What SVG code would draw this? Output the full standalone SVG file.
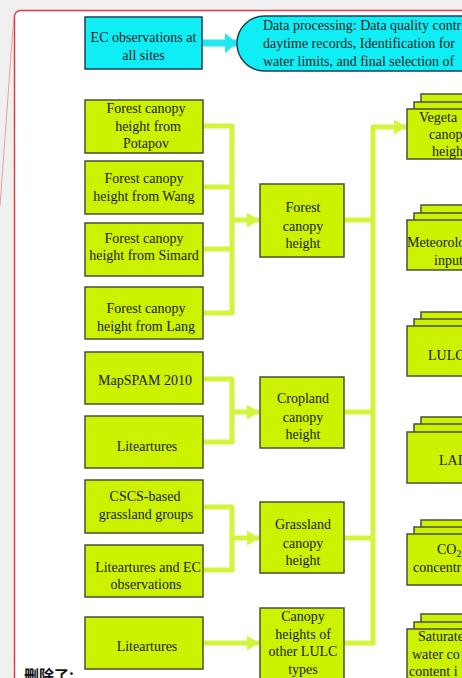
<svg xmlns="http://www.w3.org/2000/svg" width="462" height="678" viewBox="0 0 462 678">
<style>
.t{font-family:"Liberation Serif","Times New Roman",serif;font-size:14px;fill:#1a1a1a;text-anchor:middle}
.s{text-anchor:start}
.g{fill:#ccf200;stroke:#4d4d3a;stroke-width:1.5}
.c{fill:#10eef5;stroke:#1c4050;stroke-width:1.5}
.w{fill:none;stroke:#d2f53c;stroke-width:5;stroke-linejoin:round}
</style>
<defs>
<marker id="ah" markerUnits="userSpaceOnUse" markerWidth="12" markerHeight="16" refX="12" refY="8" orient="auto">
<path d="M0,0.5 L12,8 L0,15.5 z" fill="#d2f53c"/>
</marker>
<marker id="ac" markerUnits="userSpaceOnUse" markerWidth="12" markerHeight="22" refX="12" refY="11" orient="auto">
<path d="M0,1 L12,11 L0,21 z" fill="#22e6f0"/>
</marker>
</defs>
<rect x="0" y="0" width="462" height="678" fill="#f0f0f0"/>
<rect x="14.5" y="10.5" width="470" height="700" rx="6" fill="#ffffff" stroke="#d9404a" stroke-width="1.5"/>
<line x1="14" y1="14" x2="0" y2="206" stroke="#e8a0a6" stroke-width="1"/>

<g id="connectors">
<line x1="202" y1="43" x2="237" y2="43" stroke="#22e6f0" stroke-width="7" marker-end="url(#ac)"/>
<path class="w" d="M203 126 H232 V313 H203 M203 187 H232 M203 249 H232"/>
<line class="w" x1="232" y1="220" x2="259" y2="220" marker-end="url(#ah)"/>
<path class="w" d="M203 379 H232 V442 H203"/>
<line class="w" x1="232" y1="412" x2="259" y2="412" marker-end="url(#ah)"/>
<path class="w" d="M203 507 H232 V570 H203"/>
<line class="w" x1="232" y1="538" x2="259" y2="538" marker-end="url(#ah)"/>
<line class="w" x1="203" y1="643" x2="259" y2="643" marker-end="url(#ah)"/>
<path class="w" d="M344 643 H373 V127 H406" marker-end="url(#ah)"/>
<path class="w" d="M344 220 H373 M344 412 H373 M344 538 H373"/>
</g>

<g id="ec">
<rect class="c" x="85" y="17" width="117" height="52"/>
<text class="t" x="143.5" y="42">EC observations at</text>
<text class="t" x="143.5" y="60">all sites</text>
</g>
<g id="processing">
<path class="c" d="M264.5 16 H480 V71 H264.5 A27.5 27.5 0 0 1 264.5 16 Z"/>
<text class="t s" x="263" y="30">Data processing: Data quality contr</text>
<text class="t s" x="263" y="48">daytime records, Identification for</text>
<text class="t s" x="263" y="66">water limits, and final selection of</text>
</g>

<g id="potapov">
<rect class="g" x="85" y="100" width="118" height="53"/>
<text class="t" x="146" y="113">Forest canopy</text>
<text class="t" x="148" y="131">height from</text>
<text class="t" x="146" y="148">Potapov</text>
</g>
<g id="wang">
<rect class="g" x="85" y="161" width="118" height="53"/>
<text class="t" x="144" y="183">Forest canopy</text>
<text class="t" x="144" y="201">height from Wang</text>
</g>
<g id="simard">
<rect class="g" x="85" y="223" width="118" height="53"/>
<text class="t" x="144" y="243">Forest canopy</text>
<text class="t" x="144" y="260">height from Simard</text>
</g>
<g id="lang">
<rect class="g" x="85" y="287" width="118" height="52"/>
<text class="t" x="146" y="313">Forest canopy</text>
<text class="t" x="146" y="331">height from Lang</text>
</g>
<g id="mapspam">
<rect class="g" x="85" y="352" width="118" height="52"/>
<text class="t" x="145" y="385">MapSPAM 2010</text>
</g>
<g id="lit1">
<rect class="g" x="85" y="416" width="118" height="52"/>
<text class="t" x="147" y="451">Liteartures</text>
</g>
<g id="cscs">
<rect class="g" x="85" y="480" width="118" height="53"/>
<text class="t" x="145" y="501">CSCS-based</text>
<text class="t" x="146" y="519">grassland groups</text>
</g>
<g id="litec">
<rect class="g" x="85" y="545" width="118" height="52"/>
<text class="t" x="148" y="572">Liteartures and EC</text>
<text class="t" x="146" y="589">observations</text>
</g>
<g id="lit2">
<rect class="g" x="85" y="617" width="118" height="52"/>
<text class="t" x="147" y="651">Liteartures</text>
</g>

<g id="forest">
<rect class="g" x="260" y="184" width="84" height="73"/>
<text class="t" x="303" y="212">Forest</text>
<text class="t" x="303" y="231">canopy</text>
<text class="t" x="303" y="248">height</text>
</g>
<g id="cropland">
<rect class="g" x="260" y="377" width="84" height="71"/>
<text class="t" x="303" y="403">Cropland</text>
<text class="t" x="303" y="422">canopy</text>
<text class="t" x="303" y="439">height</text>
</g>
<g id="grassland">
<rect class="g" x="260" y="502" width="84" height="71"/>
<text class="t" x="303" y="529">Grassland</text>
<text class="t" x="303" y="548">canopy</text>
<text class="t" x="303" y="565">height</text>
</g>
<g id="other">
<rect class="g" x="260" y="608" width="84" height="80"/>
<text class="t" x="303" y="621">Canopy</text>
<text class="t" x="303" y="639">heights of</text>
<text class="t" x="303" y="656">other LULC</text>
<text class="t" x="303" y="674">types</text>
</g>

<g id="vegetation">
<rect class="g" x="421" y="94" width="100" height="50"/>
<rect class="g" x="414" y="102" width="100" height="50"/>
<rect class="g" x="407" y="109" width="100" height="50"/>
<text class="t s" x="419" y="122">Vegeta</text>
<text class="t s" x="429" y="139">canop</text>
<text class="t s" x="432" y="156">heigh</text>
</g>
<g id="meteo">
<rect class="g" x="421" y="205" width="100" height="50"/>
<rect class="g" x="414" y="213" width="100" height="50"/>
<rect class="g" x="407" y="220" width="100" height="50"/>
<text class="t s" x="407" y="247">Meteorolo</text>
<text class="t s" x="434" y="265">input</text>
</g>
<g id="lulc">
<rect class="g" x="421" y="312" width="100" height="50"/>
<rect class="g" x="414" y="319" width="100" height="50"/>
<rect class="g" x="407" y="326" width="100" height="50"/>
<text class="t s" x="428" y="360">LULC</text>
</g>
<g id="lai">
<rect class="g" x="421" y="417" width="100" height="51"/>
<rect class="g" x="414" y="424" width="100" height="51"/>
<rect class="g" x="407" y="432" width="100" height="51"/>
<text class="t s" x="439" y="465">LAI</text>
</g>
<g id="co2">
<rect class="g" x="421" y="520" width="100" height="51"/>
<rect class="g" x="414" y="527" width="100" height="51"/>
<rect class="g" x="407" y="534" width="100" height="51"/>
<text class="t s" x="437" y="554">CO<tspan font-size="10" dy="3">2</tspan></text>
<text class="t s" x="413" y="572">concentr</text>
</g>
<g id="saturated">
<rect class="g" x="421" y="614" width="100" height="60"/>
<rect class="g" x="414" y="622" width="100" height="60"/>
<rect class="g" x="407" y="629" width="100" height="60"/>
<text class="t s" x="418" y="641">Saturate</text>
<text class="t s" x="412" y="659">water co</text>
<text class="t s" x="409" y="676">content i</text>
</g>

<text x="24" y="681" font-family="'Noto Sans CJK SC',sans-serif" font-size="15" font-weight="bold" fill="#111">删除了:</text>
</svg>
